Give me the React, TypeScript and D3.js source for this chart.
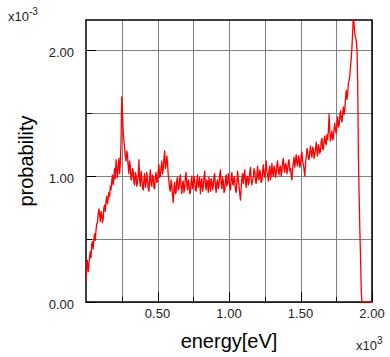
import React from "react";
import * as d3 from "d3";

// Energy grid (eV): bins every 5 eV from 0 to 2000
const energyStart = 0;
const energyStep = 5;

// probability values in units of 1e-3, one per energy bin
const probability = [
  0.17, 0.27, 0.33, 0.24, 0.29, 0.36, 0.40, 0.35, 0.46, 0.48, 0.42, 0.50, 0.54, 0.49, 0.57, 0.62, 0.63, 0.70, 0.74, 0.69,
  0.64, 0.72, 0.70, 0.63, 0.66, 0.75, 0.77, 0.72, 0.80, 0.84, 0.78, 0.82, 0.87, 0.84, 0.92, 0.89, 0.96, 1.01, 0.93, 0.98,
  1.06, 0.98, 1.13, 1.05, 0.99, 1.08, 1.14, 1.02, 1.10, 1.28, 1.63, 1.50, 1.36, 1.28, 1.22, 1.15, 1.12, 1.20, 1.17, 1.08,
  1.02, 1.12, 1.08, 0.97, 0.98, 1.06, 1.04, 0.95, 0.93, 1.03, 1.01, 0.92, 0.95, 1.00, 1.13, 0.97, 0.92, 1.04, 0.99, 0.90,
  0.89, 0.98, 1.02, 0.91, 0.94, 1.03, 0.97, 0.90, 0.88, 0.99, 1.05, 0.93, 0.92, 1.01, 0.99, 0.91, 0.90, 1.00, 1.03, 0.95,
  0.96, 1.04, 1.09, 0.99, 1.00, 1.07, 1.12, 1.02, 1.05, 1.14, 1.20, 1.06, 1.08, 1.16, 1.11, 1.01, 0.96, 0.90, 0.88, 0.97,
  0.93, 0.85, 0.79, 0.90, 0.95, 0.86, 0.87, 0.97, 0.99, 0.89, 0.90, 0.98, 1.01, 0.92, 0.86, 0.94, 0.96, 0.87, 0.91, 0.99,
  1.03, 0.93, 0.89, 0.97, 0.94, 0.86, 0.87, 0.95, 1.00, 0.90, 0.92, 1.00, 0.97, 0.89, 0.88, 0.96, 1.01, 0.91, 0.93, 0.99,
  0.86, 0.94, 0.98, 0.88, 0.91, 0.99, 1.04, 0.93, 0.89, 0.97, 0.95, 0.87, 0.99, 0.94, 0.88, 0.98, 0.96, 0.89, 0.92, 1.00,
  1.02, 0.92, 0.87, 0.95, 0.97, 0.90, 0.93, 1.01, 1.05, 0.94, 0.90, 0.99, 0.96, 0.87, 0.88, 0.97, 1.01, 0.92, 0.94, 1.02,
  0.99, 0.91, 0.89, 0.98, 1.03, 0.94, 0.93, 1.00, 0.97, 0.89, 0.87, 0.95, 1.04, 0.97, 0.92, 0.86, 0.81, 0.90, 0.98, 1.02,
  0.94, 1.00, 1.05, 0.96, 0.91, 0.99, 1.00, 0.93, 0.95, 1.03, 1.07, 0.98, 0.93, 0.97, 0.99, 1.06, 1.04, 0.96, 0.94, 1.01,
  1.08, 0.99, 0.97, 1.05, 1.02, 0.95, 0.96, 1.04, 1.09, 1.01, 0.99, 1.06, 1.12, 1.03, 1.01, 0.96, 1.05, 1.08, 0.97, 1.02,
  1.10, 1.03, 1.00, 1.08, 1.06, 0.99, 1.02, 1.09, 1.12, 1.04, 1.01, 1.07, 1.08, 1.00, 1.04, 1.11, 1.14, 1.06, 1.03, 1.10,
  1.09, 1.02, 1.05, 1.12, 1.13, 1.04, 1.06, 1.01, 0.97, 1.06, 1.11, 1.15, 1.07, 1.12, 1.17, 1.10, 1.08, 1.16, 1.14, 1.07,
  1.10, 1.17, 1.19, 1.12, 1.09, 1.05, 1.00, 1.10, 1.15, 1.22, 1.20, 1.14, 1.13, 1.19, 1.24, 1.18, 1.15, 1.23, 1.21, 1.14,
  1.17, 1.22, 1.27, 1.19, 1.16, 1.25, 1.23, 1.18, 1.20, 1.28, 1.30, 1.22, 1.21, 1.29, 1.32, 1.26, 1.25, 1.33, 1.29, 1.36,
  1.49, 1.35, 1.28, 1.33, 1.36, 1.29, 1.30, 1.38, 1.42, 1.36, 1.34, 1.41, 1.47, 1.39, 1.40, 1.48, 1.52, 1.45, 1.43, 1.50,
  1.55, 1.49, 1.53, 1.62, 1.68, 1.61, 1.66, 1.74, 1.76, 1.80, 1.87, 1.94, 2.03, 2.15, 2.28, 2.20, 2.13, 2.10, 2.08, 2.00,
  1.75, 1.15, 0.85, 0.57, 0.35, 0.08, 0.00, 0.00, 0.00, 0.00, 0.00, 0.00, 0.00, 0.00, 0.00, 0.00, 0.00, 0.00, 0.00, 0.00,
  0.00,
];

const xMajorTicks = [0.5, 1.0, 1.5, 2.0];
const xMinorTicks = [0.25, 0.75, 1.25, 1.75];
const yMajorTicks = [0, 1.0, 2.0];
const yMinorTicks = [0.5, 1.5];

const W = 390;
const H = 357;
const left = 86;
const right = 372;
const top = 20;
const bottom = 302;

export default function App() {
  const x = d3.scaleLinear().domain([0, 2.0]).range([left, right]);
  const y = d3.scaleLinear().domain([0, 2.24]).range([bottom, top]);

  const data = probability.map((p, i) => ({
    e: (energyStart + i * energyStep) / 1000,
    p,
  }));

  const line = d3
    .line<{ e: number; p: number }>()
    .x((d) => x(d.e))
    .y((d) => y(d.p));

  const font = "Arial, 'Liberation Sans', sans-serif";
  const allX = [...xMajorTicks, ...xMinorTicks];
  const allY = [...yMajorTicks, ...yMinorTicks];

  return (
    <svg
      width={W}
      height={H}
      style={{ position: "absolute", left: 0, top: 0, background: "#fff" }}
      fontFamily={font}
    >
      <defs>
        <clipPath id="plotclip">
          <rect x={left} y={top} width={right - left} height={bottom - top + 1} />
        </clipPath>
      </defs>
      {/* grid */}
      {allX.map((t) => (
        <line
          key={"gx" + t}
          x1={Math.round(x(t)) + 0.5}
          x2={Math.round(x(t)) + 0.5}
          y1={top}
          y2={bottom}
          stroke="#808080"
          strokeWidth={1}
        />
      ))}
      {allY.map((t) => (
        <line
          key={"gy" + t}
          x1={left}
          x2={right}
          y1={Math.round(y(t)) + 0.5}
          y2={Math.round(y(t)) + 0.5}
          stroke="#808080"
          strokeWidth={1}
        />
      ))}
      {/* ticks */}
      {xMajorTicks.map((t) => (
        <line key={"tx" + t} x1={Math.round(x(t)) + 0.5} x2={Math.round(x(t)) + 0.5} y1={bottom} y2={bottom - 10} stroke="#000" strokeWidth={1} />
      ))}
      {xMinorTicks.map((t) => (
        <line key={"tmx" + t} x1={Math.round(x(t)) + 0.5} x2={Math.round(x(t)) + 0.5} y1={bottom} y2={bottom - 5} stroke="#000" strokeWidth={1} />
      ))}
      {yMajorTicks.map((t) => (
        <line key={"ty" + t} x1={left} x2={left + 10} y1={Math.round(y(t)) + 0.5} y2={Math.round(y(t)) + 0.5} stroke="#000" strokeWidth={1} />
      ))}
      {yMinorTicks.map((t) => (
        <line key={"tmy" + t} x1={left} x2={left + 6} y1={Math.round(y(t)) + 0.5} y2={Math.round(y(t)) + 0.5} stroke="#000" strokeWidth={1} />
      ))}
      {/* frame */}
      <rect x={left} y={top} width={right - left} height={bottom - top} fill="none" stroke="#000" strokeWidth={1.5} />
      {/* data */}
      <path
        d={line(data) || ""}
        fill="none"
        stroke="#ff0000"
        strokeWidth={1.3}
        strokeLinejoin="round"
        clipPath="url(#plotclip)"
      />
      {/* tick labels */}
      {xMajorTicks.map((t) => (
        <text key={"lx" + t} x={x(t)} y={318} fontSize={13} textAnchor="middle" fill="#222">
          {t.toFixed(2)}
        </text>
      ))}
      {yMajorTicks.map((t) => (
        <text key={"ly" + t} x={74} y={y(t) + 7} fontSize={13} textAnchor="end" fill="#222">
          {t.toFixed(2)}
        </text>
      ))}
      {/* exponents */}
      <text x={8} y={21} fontSize={13} fill="#222">
        x10
        <tspan dy={-6} fontSize={10}>-3</tspan>
      </text>
      <text x={356} y={350} fontSize={13} fill="#222">
        x10
        <tspan dy={-6} fontSize={10}>3</tspan>
      </text>
      {/* axis titles */}
      <text x={229} y={348} fontSize={20} textAnchor="middle" fill="#000">
        energy[eV]
      </text>
      <text
        transform={`translate(33, 161) rotate(-90)`}
        fontSize={20}
        textAnchor="middle"
        fill="#000"
      >
        probability
      </text>
    </svg>
  );
}
